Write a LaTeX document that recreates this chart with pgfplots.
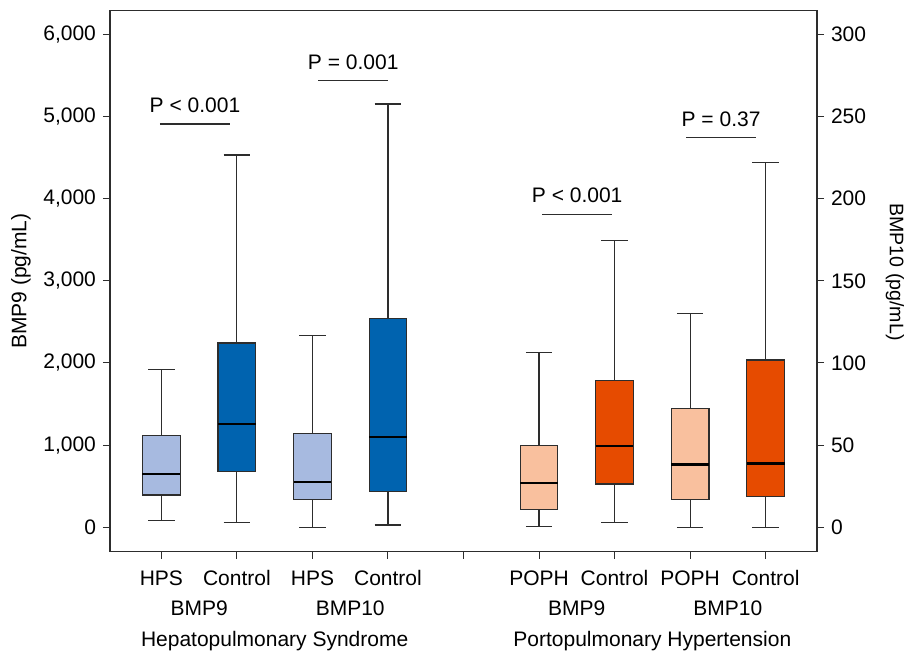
\documentclass[border=0pt]{standalone}
\usepackage{fontspec}
\setmainfont{Liberation Sans}
\usepackage{pgfplots}
\pgfplotsset{compat=1.18}
\definecolor{lblue}{RGB}{167,186,224}
\definecolor{dblue}{RGB}{0,99,175}
\definecolor{lorange}{RGB}{249,192,158}
\definecolor{dorange}{RGB}{230,75,0}
\definecolor{edge}{RGB}{45,45,45}

\pgfplotsset{
  common/.style={width=353.5pt, height=270.5pt, scale only axis,
    xmin=0.32, xmax=9.68, tick align=outside, major tick length=3.5pt,
    tick style={edge, line width=0.5pt}, axis line style={edge, line width=0.6pt},
    /pgf/number format/assume math mode=true, scaled y ticks=false,
    clip mode=individual},
  whisk/.style={edge, line width=0.55pt},
}

% box: #1 colour, #2 position, #3 lower whisker, #4 Q1, #5 median, #6 Q3, #7 upper whisker
\newcommand{\bbox}[7]{%
  \pgfmathsetmacro\bxl{#2-0.25}\pgfmathsetmacro\bxr{#2+0.25}%
  \pgfmathsetmacro\cpl{#2-0.175}\pgfmathsetmacro\cpr{#2+0.175}%
  \addplot[whisk] coordinates {(#2,#3) (#2,#7)};
  \addplot[whisk] coordinates {(\cpl,#3) (\cpr,#3)};
  \addplot[whisk] coordinates {(\cpl,#7) (\cpr,#7)};
  \addplot[draw=edge, line width=0.55pt, fill=#1] coordinates
    {(\bxl,#4) (\bxr,#4) (\bxr,#6) (\bxl,#6)} -- cycle;
  \addplot[black, line width=1.2pt] coordinates {(\bxl,#5) (\bxr,#5)};
}

\begin{document}
\begin{tikzpicture}[font=\fontsize{10.5}{12.6}\selectfont]
% left axis: BMP9
\begin{axis}[common, ymin=-297, ymax=6287,
  ytick={0,1000,2000,3000,4000,5000,6000}, ytick pos=left,
  yticklabel style={/pgf/number format/1000 sep={,}},
  xtick={1,2,3,4,5,6,7,8,9}, xtick pos=bottom,
  xticklabels={HPS,Control,HPS,Control,,POPH,Control,POPH,Control},
  xticklabel style={yshift=-2.5pt},
  ylabel={BMP9 (pg/mL)},
  ylabel style={at={(axis description cs:-0.1259,0.5)}, anchor=center}]
\bbox{lblue}{1}{80}{393}{645}{1115}{1923}
\bbox{dblue}{2}{56}{681}{1257}{2243}{4531}
\bbox{lorange}{6}{7}{211}{539}{993}{2125}
\bbox{dorange}{7}{61}{527}{989}{1784}{3488}

% p-value brackets
\draw[edge, line width=0.6pt] (axis cs:0.98,4908) -- (axis cs:1.91,4908);
\node[anchor=base, yshift=5.8pt] at (axis cs:1.445,4908) {P < 0.001};
\draw[edge, line width=0.6pt] (axis cs:3.075,5435) -- (axis cs:4.0,5435);
\node[anchor=base, yshift=5.8pt] at (axis cs:3.54,5435) {P = 0.001};
\draw[edge, line width=0.6pt] (axis cs:6.045,3809) -- (axis cs:6.966,3809);
\node[anchor=base, yshift=5.8pt] at (axis cs:6.505,3809) {P < 0.001};
\draw[edge, line width=0.6pt] (axis cs:7.95,4741) -- (axis cs:8.876,4741);
\node[anchor=base, yshift=5.8pt] at (axis cs:8.41,4741) {P = 0.37};

% group labels
\node[anchor=base, yshift=-31.7pt] at (axis cs:1.5,-297) {BMP9};
\node[anchor=base, yshift=-31.7pt] at (axis cs:3.5,-297) {BMP10};
\node[anchor=base, yshift=-31.7pt] at (axis cs:6.5,-297) {BMP9};
\node[anchor=base, yshift=-31.7pt] at (axis cs:8.5,-297) {BMP10};
\node[anchor=base, yshift=-47.2pt] at (axis cs:2.5,-297) {Hepatopulmonary Syndrome};
\node[anchor=base, yshift=-47.2pt] at (axis cs:7.5,-297) {Portopulmonary Hypertension};
\end{axis}

% right axis: BMP10
\begin{axis}[common, ymin=-14.85, ymax=314.35,
  axis x line=none, axis y line*=right,
  ytick={0,50,100,150,200,250,300},
  ylabel={BMP10 (pg/mL)},
  ylabel style={at={(axis description cs:1.1103,0.517)}, anchor=center, rotate=180,
    font=\fontsize{9.8}{11.8}\selectfont}]
\bbox{lblue}{3}{0}{16.8}{27.7}{57.2}{116.8}
\bbox{dblue}{4}{1.4}{21.7}{54.8}{127.2}{257.6}
\bbox{lorange}{8}{0}{16.8}{38.1}{72.4}{130.2}
\bbox{dorange}{9}{0}{18.9}{38.9}{101.8}{221.7}
\end{axis}

\pgfresetboundingbox
\path[use as bounding box] ([xshift=-55pt,yshift=-49.65pt]current axis.south west) rectangle ([xshift=44.5pt,yshift=5.35pt]current axis.north east);
\end{tikzpicture}
\end{document}
